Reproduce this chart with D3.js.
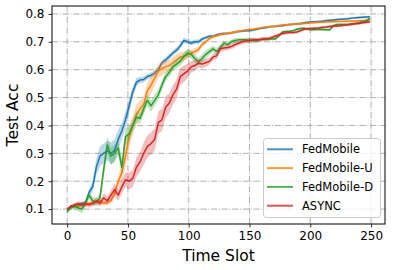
<!DOCTYPE html>
<html>
<head>
<meta charset="utf-8">
<script src="https://cdn.jsdelivr.net/npm/d3@7/dist/d3.min.js"></script>
<style>
body { margin: 0; background: #fff; }
text { font-family: "DejaVu Sans", sans-serif; fill: #000; }
</style>
</head>
<body>
<div id="chart"></div>
<script>
var slots = [0,3,6,9,12,15,18,21,24,27,30,33,36,39,42,45,48,51,54,57,60,63,66,69,72,75,78,81,84,87,90,93,96,99,
  102,105,108,111,114,117,120,123,126,129,132,135,138,141,144,147,150,153,156,159,162,165,168,171,174,177,180,183,186,189,192,195,198,
  201,204,207,210,213,216,219,222,225,228,231,234,237,240,243,246,249];

var fedMobile = [0.095,0.11,0.11,0.115,0.12,0.12,0.16,0.18,0.25,0.29,0.30,0.31,0.30,0.31,0.35,0.38,0.42,0.47,0.52,0.555,0.563,0.565,0.575,0.58,0.588,0.60,0.625,0.635,0.647,0.66,0.67,0.685,0.705,0.70,
  0.695,0.70,0.70,0.71,0.715,0.72,0.72,0.725,0.728,0.73,0.73,0.732,0.735,0.737,0.738,0.74,0.74,0.742,0.745,0.748,0.75,0.752,0.755,0.755,0.757,0.758,0.76,0.762,0.763,0.765,0.766,0.768,0.77,
  0.771,0.772,0.773,0.774,0.776,0.777,0.778,0.78,0.781,0.782,0.783,0.785,0.786,0.787,0.788,0.789,0.79];
var fedMobileU = [0.10,0.105,0.11,0.11,0.115,0.115,0.12,0.12,0.125,0.13,0.12,0.125,0.13,0.155,0.20,0.23,0.29,0.36,0.40,0.44,0.46,0.475,0.525,0.545,0.57,0.595,0.605,0.61,0.615,0.625,0.635,0.645,0.648,0.653,
  0.66,0.665,0.672,0.69,0.70,0.712,0.718,0.722,0.726,0.728,0.73,0.732,0.735,0.738,0.74,0.742,0.744,0.745,0.748,0.75,0.752,0.754,0.755,0.756,0.758,0.76,0.761,0.762,0.763,0.764,0.765,0.766,0.767,
  0.768,0.769,0.77,0.77,0.771,0.772,0.772,0.773,0.773,0.774,0.774,0.775,0.775,0.776,0.776,0.777,0.778];
var fedMobileD = [0.09,0.105,0.11,0.105,0.10,0.12,0.15,0.13,0.125,0.14,0.24,0.33,0.29,0.30,0.32,0.25,0.36,0.37,0.40,0.43,0.425,0.46,0.49,0.47,0.49,0.51,0.545,0.575,0.59,0.61,0.62,0.63,0.647,0.66,
  0.655,0.64,0.628,0.64,0.655,0.665,0.675,0.665,0.68,0.695,0.69,0.70,0.705,0.707,0.707,0.707,0.706,0.705,0.705,0.708,0.71,0.71,0.71,0.71,0.72,0.735,0.737,0.738,0.74,0.745,0.748,0.749,0.745,
  0.743,0.744,0.745,0.744,0.743,0.743,0.758,0.762,0.762,0.762,0.762,0.764,0.766,0.768,0.772,0.775,0.785];
var async = [0.10,0.11,0.115,0.12,0.115,0.12,0.115,0.12,0.13,0.12,0.14,0.13,0.15,0.17,0.15,0.18,0.205,0.20,0.21,0.25,0.27,0.30,0.325,0.335,0.35,0.41,0.42,0.465,0.48,0.51,0.53,0.575,0.585,0.595,
  0.61,0.615,0.624,0.62,0.625,0.63,0.645,0.65,0.675,0.678,0.68,0.683,0.69,0.695,0.70,0.703,0.705,0.707,0.707,0.708,0.71,0.71,0.715,0.72,0.725,0.73,0.732,0.733,0.733,0.735,0.74,0.745,0.747,
  0.748,0.749,0.75,0.752,0.753,0.755,0.756,0.757,0.758,0.76,0.761,0.763,0.765,0.766,0.768,0.77,0.772];

// spread of the shaded band around each line
var fedMobileStd = [0.004,0.005,0.005,0.005,0.006,0.008,0.012,0.02,0.03,0.035,0.035,0.035,0.04,0.04,0.035,0.03,0.03,0.025,0.02,0.015,0.012,0.01,0.01,0.01,0.01,0.01,0.01,0.01,0.01,0.01,0.01,0.01,0.01,0.008,
  0.008,0.008,0.008,0.006,0.006,0.006,0.005,0.005,0.005,0.005,0.005,0.005,0.005,0.005,0.004,0.004,0.004,0.004,0.004,0.004,0.004,0.004,0.004,0.004,0.004,0.004,0.004,0.004,0.004,0.004,0.004,0.004,0.004,
  0.004,0.004,0.004,0.004,0.004,0.004,0.004,0.004,0.004,0.004,0.004,0.004,0.004,0.004,0.004,0.004,0.004];
var fedMobileUStd = [0.004,0.004,0.005,0.005,0.005,0.005,0.005,0.006,0.006,0.008,0.008,0.01,0.012,0.015,0.02,0.03,0.04,0.04,0.035,0.035,0.03,0.03,0.03,0.03,0.028,0.025,0.025,0.022,0.02,0.02,0.02,0.018,0.016,0.015,
  0.012,0.012,0.01,0.01,0.008,0.008,0.006,0.006,0.006,0.005,0.005,0.005,0.005,0.004,0.004,0.004,0.004,0.004,0.004,0.004,0.004,0.004,0.004,0.004,0.004,0.004,0.004,0.004,0.004,0.004,0.004,0.004,0.004,
  0.004,0.004,0.004,0.004,0.004,0.004,0.004,0.004,0.004,0.004,0.004,0.004,0.004,0.004,0.004,0.004,0.004];
var fedMobileDStd = [0.005,0.008,0.01,0.012,0.015,0.015,0.015,0.015,0.015,0.02,0.025,0.03,0.03,0.03,0.03,0.03,0.03,0.025,0.022,0.022,0.02,0.02,0.02,0.02,0.02,0.018,0.018,0.016,0.015,0.015,0.015,0.015,0.015,0.015,
  0.015,0.015,0.015,0.015,0.015,0.012,0.012,0.012,0.01,0.01,0.008,0.008,0.008,0.008,0.008,0.008,0.01,0.01,0.008,0.006,0.006,0.006,0.005,0.005,0.005,0.005,0.005,0.005,0.005,0.005,0.005,0.005,0.005,
  0.005,0.005,0.005,0.005,0.005,0.005,0.005,0.005,0.005,0.005,0.005,0.005,0.005,0.005,0.005,0.005,0.005];
var asyncStd = [0.005,0.006,0.008,0.008,0.01,0.01,0.01,0.01,0.012,0.012,0.015,0.015,0.018,0.02,0.02,0.025,0.025,0.03,0.03,0.035,0.035,0.04,0.04,0.04,0.04,0.04,0.04,0.04,0.035,0.035,0.035,0.03,0.03,0.025,
  0.02,0.02,0.015,0.015,0.015,0.012,0.012,0.012,0.012,0.01,0.01,0.01,0.01,0.008,0.008,0.008,0.008,0.008,0.008,0.008,0.008,0.006,0.006,0.006,0.006,0.006,0.006,0.005,0.005,0.005,0.005,0.005,0.005,
  0.005,0.005,0.005,0.005,0.005,0.005,0.005,0.005,0.005,0.005,0.005,0.005,0.005,0.005,0.005,0.005,0.005];

var seriesNames = ["FedMobile", "FedMobile-U", "FedMobile-D", "ASYNC"];
var seriesColors = ["#1f77b4", "#ff7f0e", "#2ca02c", "#d62728"];
var xTicks = [0, 50, 100, 150, 200, 250];
var yTicks = [0.1, 0.2, 0.3, 0.4, 0.5, 0.6, 0.7, 0.8];

var allMeans = [fedMobile, fedMobileU, fedMobileD, async];
var allStds = [fedMobileStd, fedMobileUStd, fedMobileDStd, asyncStd];

var w = 394, h = 270;
var padL = 52, padR = 385, padT = 6, padB = 224;

var svg = d3.select("#chart").append("svg")
    .attr("width", w)
    .attr("height", h);

var x = d3.scaleLinear().domain([-12.45, 261.45]).range([padL, padR]);
var y = d3.scaleLinear().domain([0.0465, 0.8285]).range([padB, padT]);

svg.append("clipPath").attr("id", "clip")
  .append("rect")
    .attr("x", padL).attr("y", padT)
    .attr("width", padR - padL).attr("height", padB - padT);

// dash-dot grid
var grid = svg.append("g");
grid.selectAll(".gx").data(xTicks).enter().append("line")
    .attr("x1", d => x(d)).attr("x2", d => x(d))
    .attr("y1", padT).attr("y2", padB);
grid.selectAll(".gy").data(yTicks).enter().append("line")
    .attr("y1", d => y(d)).attr("y2", d => y(d))
    .attr("x1", padL).attr("x2", padR);
grid.selectAll("line")
    .attr("stroke", "#b0b0b0")
    .attr("stroke-width", 1)
    .attr("stroke-dasharray", "6.4,1.6,1,1.6");

var plot = svg.append("g").attr("clip-path", "url(#clip)");

for (let s = 0; s < 4; s++) {
  var rows = slots.map(function(t, i) {
    return { t: t, m: allMeans[s][i], sd: allStds[s][i] };
  });

  plot.append("path")
      .datum(rows)
      .attr("fill", seriesColors[s])
      .attr("fill-opacity", 0.3)
      .attr("d", d3.area()
        .x(d => x(d.t))
        .y0(d => y(d.m - d.sd))
        .y1(d => y(d.m + d.sd)));

  plot.append("path")
      .datum(rows)
      .attr("fill", "none")
      .attr("stroke", seriesColors[s])
      .attr("stroke-width", 1.5)
      .attr("stroke-linejoin", "round")
      .attr("d", d3.line().x(d => x(d.t)).y(d => y(d.m)));
}

// axes
svg.append("g")
    .attr("transform", "translate(0," + padB + ")")
    .call(d3.axisBottom(x).tickValues(xTicks).tickSize(3.5).tickPadding(4));
svg.append("g")
    .attr("transform", "translate(" + padL + ",0)")
    .call(d3.axisLeft(y).tickValues(yTicks).tickFormat(d3.format(".1f")).tickSize(3.5).tickPadding(4));

svg.selectAll(".domain").remove();
svg.selectAll(".tick line").attr("stroke", "#000").attr("stroke-width", 0.8);
svg.selectAll(".tick text").style("font-size", "12px").style("font-family", "DejaVu Sans");

svg.append("rect")
    .attr("x", padL).attr("y", padT)
    .attr("width", padR - padL).attr("height", padB - padT)
    .attr("fill", "none")
    .attr("stroke", "#000")
    .attr("stroke-width", 1);

svg.append("text")
    .attr("x", (padL + padR) / 2)
    .attr("y", 261)
    .style("text-anchor", "middle")
    .style("font-size", "15.5px")
    .text("Time Slot");

svg.append("text")
    .attr("transform", "rotate(-90)")
    .attr("x", -(padT + padB) / 2)
    .attr("y", 18)
    .style("text-anchor", "middle")
    .style("font-size", "15.5px")
    .text("Test Acc");

// legend
var legend = svg.append("g");
legend.append("rect")
    .attr("x", 263.5).attr("y", 138.5)
    .attr("width", 117).attr("height", 79)
    .attr("rx", 3)
    .attr("fill", "#fff")
    .attr("fill-opacity", 0.8)
    .attr("stroke", "#cccccc");

var items = legend.selectAll(".item")
    .data(seriesNames)
    .enter().append("g")
    .attr("transform", (d, i) => "translate(0," + (149.3 + i * 18.8) + ")");
items.append("line")
    .attr("x1", 267).attr("x2", 293)
    .attr("stroke", (d, i) => seriesColors[i])
    .attr("stroke-opacity", 0.8)
    .attr("stroke-width", 2);
items.append("text")
    .attr("x", 302)
    .attr("dy", "0.35em")
    .style("font-size", "11.5px")
    .text(d => d);
</script>
</body>
</html>
